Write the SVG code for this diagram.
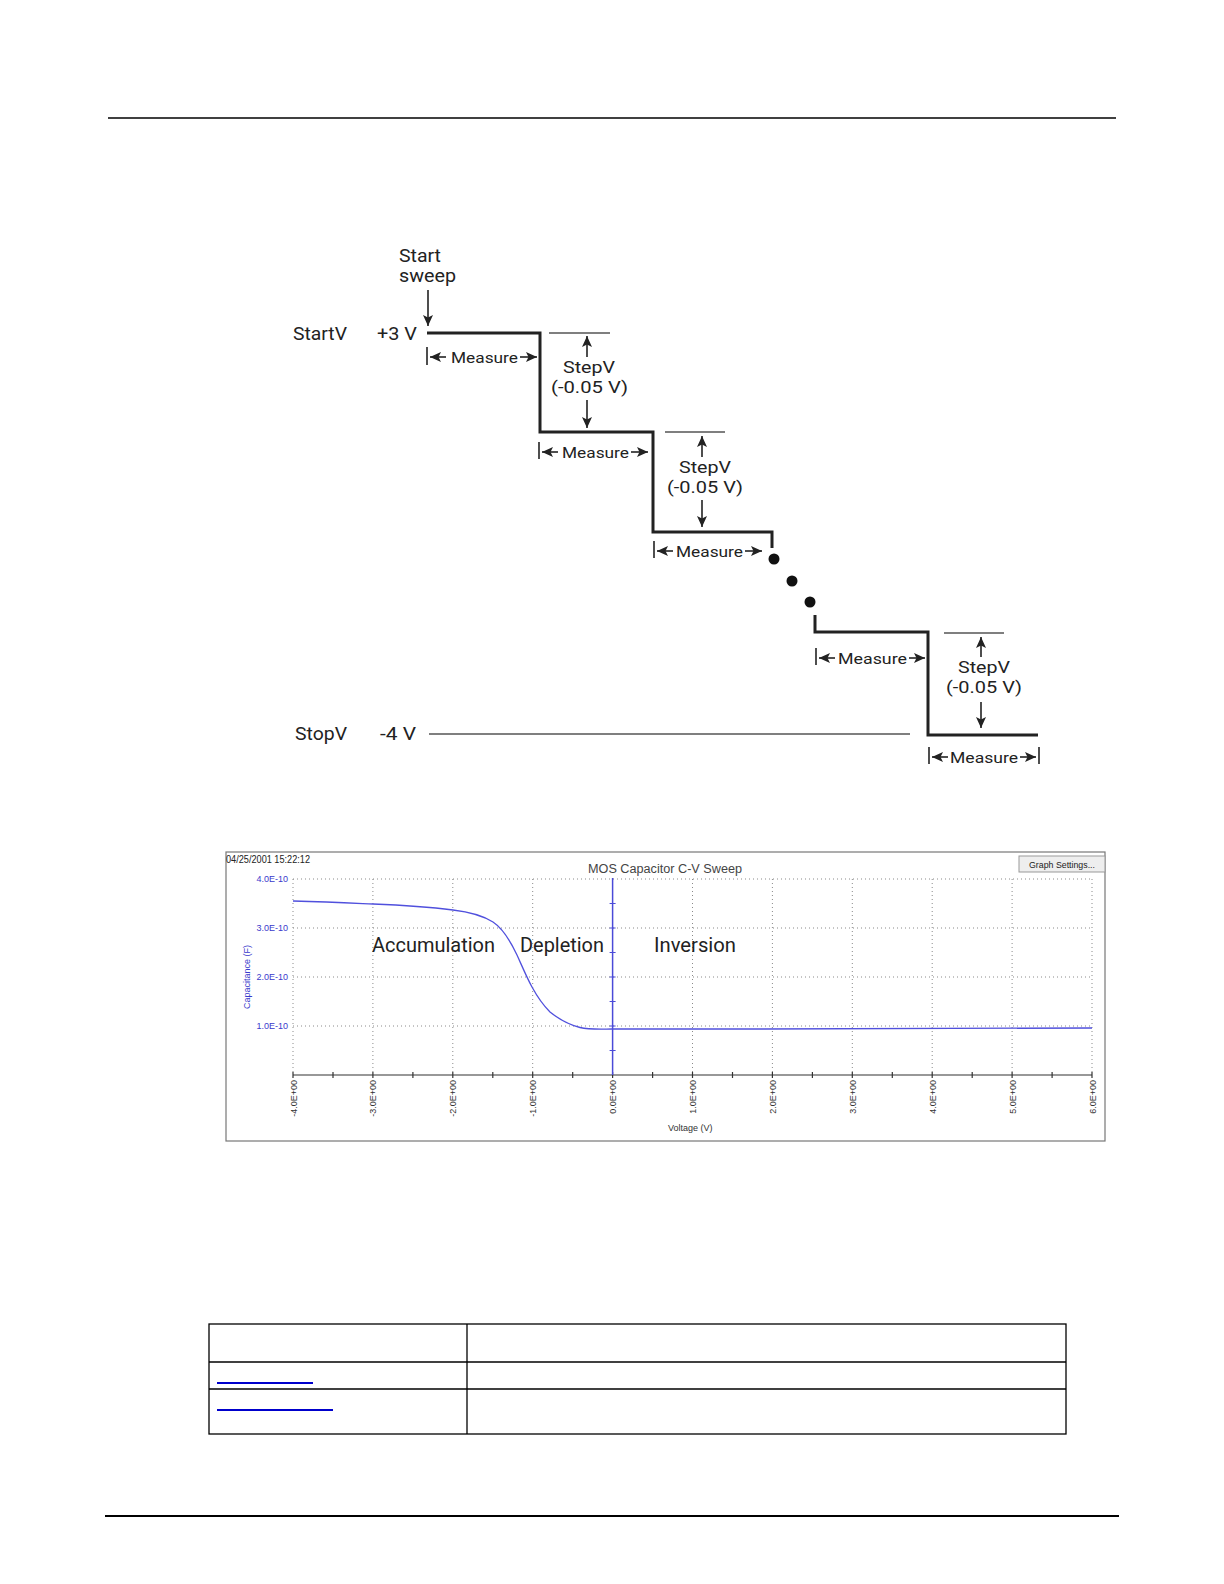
<svg xmlns="http://www.w3.org/2000/svg" width="1224" height="1584" viewBox="0 0 1224 1584">
<style>
.t{font-family:Roboto,"Liberation Sans",sans-serif;fill:#222}
.big{font-size:18px}
.mid{font-size:17px}
.ms{font-size:15px}
.step{fill:none;stroke:#222;stroke-width:3}
.ref{stroke:#555;stroke-width:1.5}
.arr{stroke:#222;stroke-width:1.6;fill:none}
.c{font-family:"Liberation Sans",Arial,sans-serif}
.grid{stroke:#8a8a8a;stroke-width:1;stroke-dasharray:1,3}
.yl{font-size:9px;fill:#3a3acc}
.xl{font-size:9px;fill:#333}
</style>
<defs>
<marker id="ah" markerUnits="userSpaceOnUse" markerWidth="12" markerHeight="10" refX="11" refY="5" orient="auto">
<path d="M0,0 L11,5 L0,10 L2.5,5 z" fill="#222"/>
</marker>
</defs>

<line x1="108" y1="118" x2="1116" y2="118" stroke="#000" stroke-width="1.4"/>
<line x1="105" y1="1516" x2="1119" y2="1516" stroke="#000" stroke-width="2.2"/>

<g id="sweep-diagram">
<g id="labels">
<text class="t big" x="399" y="262" textLength="42" lengthAdjust="spacingAndGlyphs">Start</text>
<text class="t big" x="399" y="282" textLength="57" lengthAdjust="spacingAndGlyphs">sweep</text>
<text class="t big" x="293" y="340" textLength="54" lengthAdjust="spacingAndGlyphs">StartV</text>
<text class="t big" x="377" y="340" textLength="40" lengthAdjust="spacingAndGlyphs">+3 V</text>
<text class="t big" x="295" y="740" textLength="52" lengthAdjust="spacingAndGlyphs">StopV</text>
<text class="t big" x="380" y="740" textLength="36" lengthAdjust="spacingAndGlyphs">-4 V</text>
</g>
<g id="start-arrow">
<line class="arr" x1="428" y1="290" x2="428" y2="326" marker-end="url(#ah)"/>
</g>
<g id="waveform">
<path class="step" d="M427,333 H540 V432 H653 V532 H772 V548"/>
<path class="step" d="M815,615 V632 H928 V735 H1038"/>
<circle cx="774" cy="559" r="5.5" fill="#111"/>
<circle cx="792" cy="581" r="5.5" fill="#111"/>
<circle cx="810" cy="602" r="5.5" fill="#111"/>
<line class="ref" x1="429" y1="734" x2="910" y2="734"/>
</g>
<g id="stepv1">
<line class="ref" x1="549" y1="333" x2="610" y2="333"/>
<line class="arr" x1="587" y1="357" x2="587" y2="336" marker-end="url(#ah)"/>
<line class="arr" x1="587" y1="400" x2="587" y2="428" marker-end="url(#ah)"/>
<text class="t mid" x="563" y="373" textLength="52" lengthAdjust="spacingAndGlyphs">StepV</text>
<text class="t mid" x="551" y="393" textLength="77" lengthAdjust="spacingAndGlyphs">(-0.05 V)</text>
</g>
<g id="stepv2">
<line class="ref" x1="665" y1="432" x2="725" y2="432"/>
<line class="arr" x1="702" y1="457" x2="702" y2="436" marker-end="url(#ah)"/>
<line class="arr" x1="702" y1="500" x2="702" y2="527" marker-end="url(#ah)"/>
<text class="t mid" x="679" y="473" textLength="52" lengthAdjust="spacingAndGlyphs">StepV</text>
<text class="t mid" x="667" y="493" textLength="76" lengthAdjust="spacingAndGlyphs">(-0.05 V)</text>
</g>
<g id="stepv3">
<line class="ref" x1="944" y1="633" x2="1004" y2="633"/>
<line class="arr" x1="981" y1="657" x2="981" y2="637" marker-end="url(#ah)"/>
<line class="arr" x1="981" y1="702" x2="981" y2="728" marker-end="url(#ah)"/>
<text class="t mid" x="958" y="673" textLength="52" lengthAdjust="spacingAndGlyphs">StepV</text>
<text class="t mid" x="946" y="693" textLength="76" lengthAdjust="spacingAndGlyphs">(-0.05 V)</text>
</g>
<g id="measure1">
<line class="arr" x1="427" y1="347" x2="427" y2="365"/>
<line class="arr" x1="446" y1="357" x2="430" y2="357" marker-end="url(#ah)"/>
<text class="t ms" x="451" y="363" textLength="67" lengthAdjust="spacingAndGlyphs">Measure</text>
<line class="arr" x1="520" y1="357" x2="537" y2="357" marker-end="url(#ah)"/>
</g>
<g id="measure2">
<line class="arr" x1="539" y1="442" x2="539" y2="459"/>
<line class="arr" x1="558" y1="452" x2="542" y2="452" marker-end="url(#ah)"/>
<text class="t ms" x="562" y="458" textLength="67" lengthAdjust="spacingAndGlyphs">Measure</text>
<line class="arr" x1="631" y1="452" x2="648" y2="452" marker-end="url(#ah)"/>
</g>
<g id="measure3">
<line class="arr" x1="654" y1="541" x2="654" y2="558"/>
<line class="arr" x1="673" y1="551" x2="657" y2="551" marker-end="url(#ah)"/>
<text class="t ms" x="676" y="557" textLength="67" lengthAdjust="spacingAndGlyphs">Measure</text>
<line class="arr" x1="745" y1="551" x2="762" y2="551" marker-end="url(#ah)"/>
</g>
<g id="measure4">
<line class="arr" x1="816" y1="648" x2="816" y2="665"/>
<line class="arr" x1="835" y1="658" x2="819" y2="658" marker-end="url(#ah)"/>
<text class="t ms" x="838" y="664" textLength="69" lengthAdjust="spacingAndGlyphs">Measure</text>
<line class="arr" x1="909" y1="658" x2="925" y2="658" marker-end="url(#ah)"/>
</g>
<g id="measure5">
<line class="arr" x1="929" y1="747" x2="929" y2="764"/>
<line class="arr" x1="948" y1="757" x2="932" y2="757" marker-end="url(#ah)"/>
<text class="t ms" x="950" y="763" textLength="68" lengthAdjust="spacingAndGlyphs">Measure</text>
<line class="arr" x1="1020" y1="757" x2="1036" y2="757" marker-end="url(#ah)"/>
<line class="arr" x1="1039" y1="747" x2="1039" y2="764"/>
</g>
</g>

<g id="cv-chart">
<rect x="226" y="852" width="879" height="289" fill="#fff" stroke="#777" stroke-width="1.2"/>
<text class="c" x="226" y="863" font-size="10" fill="#222" textLength="84" lengthAdjust="spacingAndGlyphs">04/25/2001 15:22:12</text>
<text class="c" x="588" y="873" font-size="12.5" fill="#444" textLength="154" lengthAdjust="spacingAndGlyphs">MOS Capacitor C-V Sweep</text>
<g id="graph-settings">
<rect x="1019" y="856" width="86" height="16" fill="#eeeeee" stroke="#999" stroke-width="1"/>
<text class="c" x="1062" y="867.5" font-size="9" fill="#222" text-anchor="middle" textLength="66" lengthAdjust="spacingAndGlyphs">Graph Settings...</text>
</g>
<g id="grid">
<line class="grid" x1="293" y1="879" x2="1092" y2="879"/>
<line class="grid" x1="293" y1="928" x2="1092" y2="928"/>
<line class="grid" x1="293" y1="977" x2="1092" y2="977"/>
<line class="grid" x1="293" y1="1026" x2="1092" y2="1026"/>
<line class="grid" x1="293" y1="879" x2="293" y2="1075"/>
<line class="grid" x1="372.9" y1="879" x2="372.9" y2="1075"/>
<line class="grid" x1="452.8" y1="879" x2="452.8" y2="1075"/>
<line class="grid" x1="532.7" y1="879" x2="532.7" y2="1075"/>
<line class="grid" x1="692.5" y1="879" x2="692.5" y2="1075"/>
<line class="grid" x1="772.4" y1="879" x2="772.4" y2="1075"/>
<line class="grid" x1="852.3" y1="879" x2="852.3" y2="1075"/>
<line class="grid" x1="932.2" y1="879" x2="932.2" y2="1075"/>
<line class="grid" x1="1012.1" y1="879" x2="1012.1" y2="1075"/>
<line class="grid" x1="1092" y1="879" x2="1092" y2="1075"/>
</g>
<g id="x-axis" stroke="#333" stroke-width="1.2">
<line x1="293" y1="1075" x2="1092" y2="1075"/>
<path d="M293,1072V1078 M333,1072V1078 M372.9,1072V1078 M412.9,1072V1078 M452.8,1072V1078 M492.8,1072V1078 M532.7,1072V1078 M572.7,1072V1078 M612.6,1072V1078 M652.6,1072V1078 M692.5,1072V1078 M732.5,1072V1078 M772.4,1072V1078 M812.4,1072V1078 M852.3,1072V1078 M892.3,1072V1078 M932.2,1072V1078 M972.2,1072V1078 M1012.1,1072V1078 M1052.1,1072V1078 M1092,1072V1078"/>
</g>
<g id="y-axis-zero" stroke="#4a4ad8" stroke-width="1.5">
<line x1="612.6" y1="878" x2="612.6" y2="1075"/>
<path d="M609.6,903.5H615.6 M609.6,928H615.6 M609.6,952.5H615.6 M609.6,977H615.6 M609.6,1001.5H615.6 M609.6,1026H615.6 M609.6,1050.5H615.6" stroke-width="1.2"/>
</g>
<path id="cv-curve" d="M293,901 C330,902 350,903 373,904 C400,905 430,907 453,910 C470,912 485,917 493,922 C502,928 510,940 517,955 C522,966 527,978 532,987 C538,998 544,1006 550,1012 C560,1020 570,1025 580,1027.5 C588,1029.5 598,1029.5 612,1029 L760,1029 L1092,1028" fill="none" stroke="#5050dd" stroke-width="1.3"/>
<g id="y-labels" class="c yl" text-anchor="end">
<text x="288" y="882">4.0E-10</text>
<text x="288" y="931">3.0E-10</text>
<text x="288" y="980">2.0E-10</text>
<text x="288" y="1029">1.0E-10</text>
</g>
<text class="c yl" transform="translate(250,977) rotate(-90)" text-anchor="middle">Capacitance (F)</text>
<g id="x-labels" class="c xl" text-anchor="end">
<text transform="translate(296.5,1080) rotate(-90)">-4.0E+00</text>
<text transform="translate(376.4,1080) rotate(-90)">-3.0E+00</text>
<text transform="translate(456.3,1080) rotate(-90)">-2.0E+00</text>
<text transform="translate(536.2,1080) rotate(-90)">-1.0E+00</text>
<text transform="translate(616.1,1080) rotate(-90)">0.0E+00</text>
<text transform="translate(696,1080) rotate(-90)">1.0E+00</text>
<text transform="translate(775.9,1080) rotate(-90)">2.0E+00</text>
<text transform="translate(855.8,1080) rotate(-90)">3.0E+00</text>
<text transform="translate(935.7,1080) rotate(-90)">4.0E+00</text>
<text transform="translate(1015.6,1080) rotate(-90)">5.0E+00</text>
<text transform="translate(1095.5,1080) rotate(-90)">6.0E+00</text>
</g>
<text class="c xl" x="668" y="1131">Voltage (V)</text>
<g id="regions">
<text class="t" x="372" y="952" font-size="20" textLength="123" lengthAdjust="spacingAndGlyphs">Accumulation</text>
<text class="t" x="520" y="952" font-size="20" textLength="84" lengthAdjust="spacingAndGlyphs">Depletion</text>
<text class="t" x="654" y="952" font-size="20" textLength="82" lengthAdjust="spacingAndGlyphs">Inversion</text>
</g>
</g>

<g id="table" stroke="#000" stroke-width="1.3" fill="none">
<rect x="209" y="1324" width="857" height="110"/>
<line x1="467" y1="1324" x2="467" y2="1434"/>
<line x1="209" y1="1362" x2="1066" y2="1362"/>
<line x1="209" y1="1389" x2="1066" y2="1389"/>
</g>
<g id="links" stroke="#0000cc" stroke-width="2">
<line x1="217" y1="1383" x2="313" y2="1383"/>
<line x1="217" y1="1410" x2="333" y2="1410"/>
</g>
</svg>
